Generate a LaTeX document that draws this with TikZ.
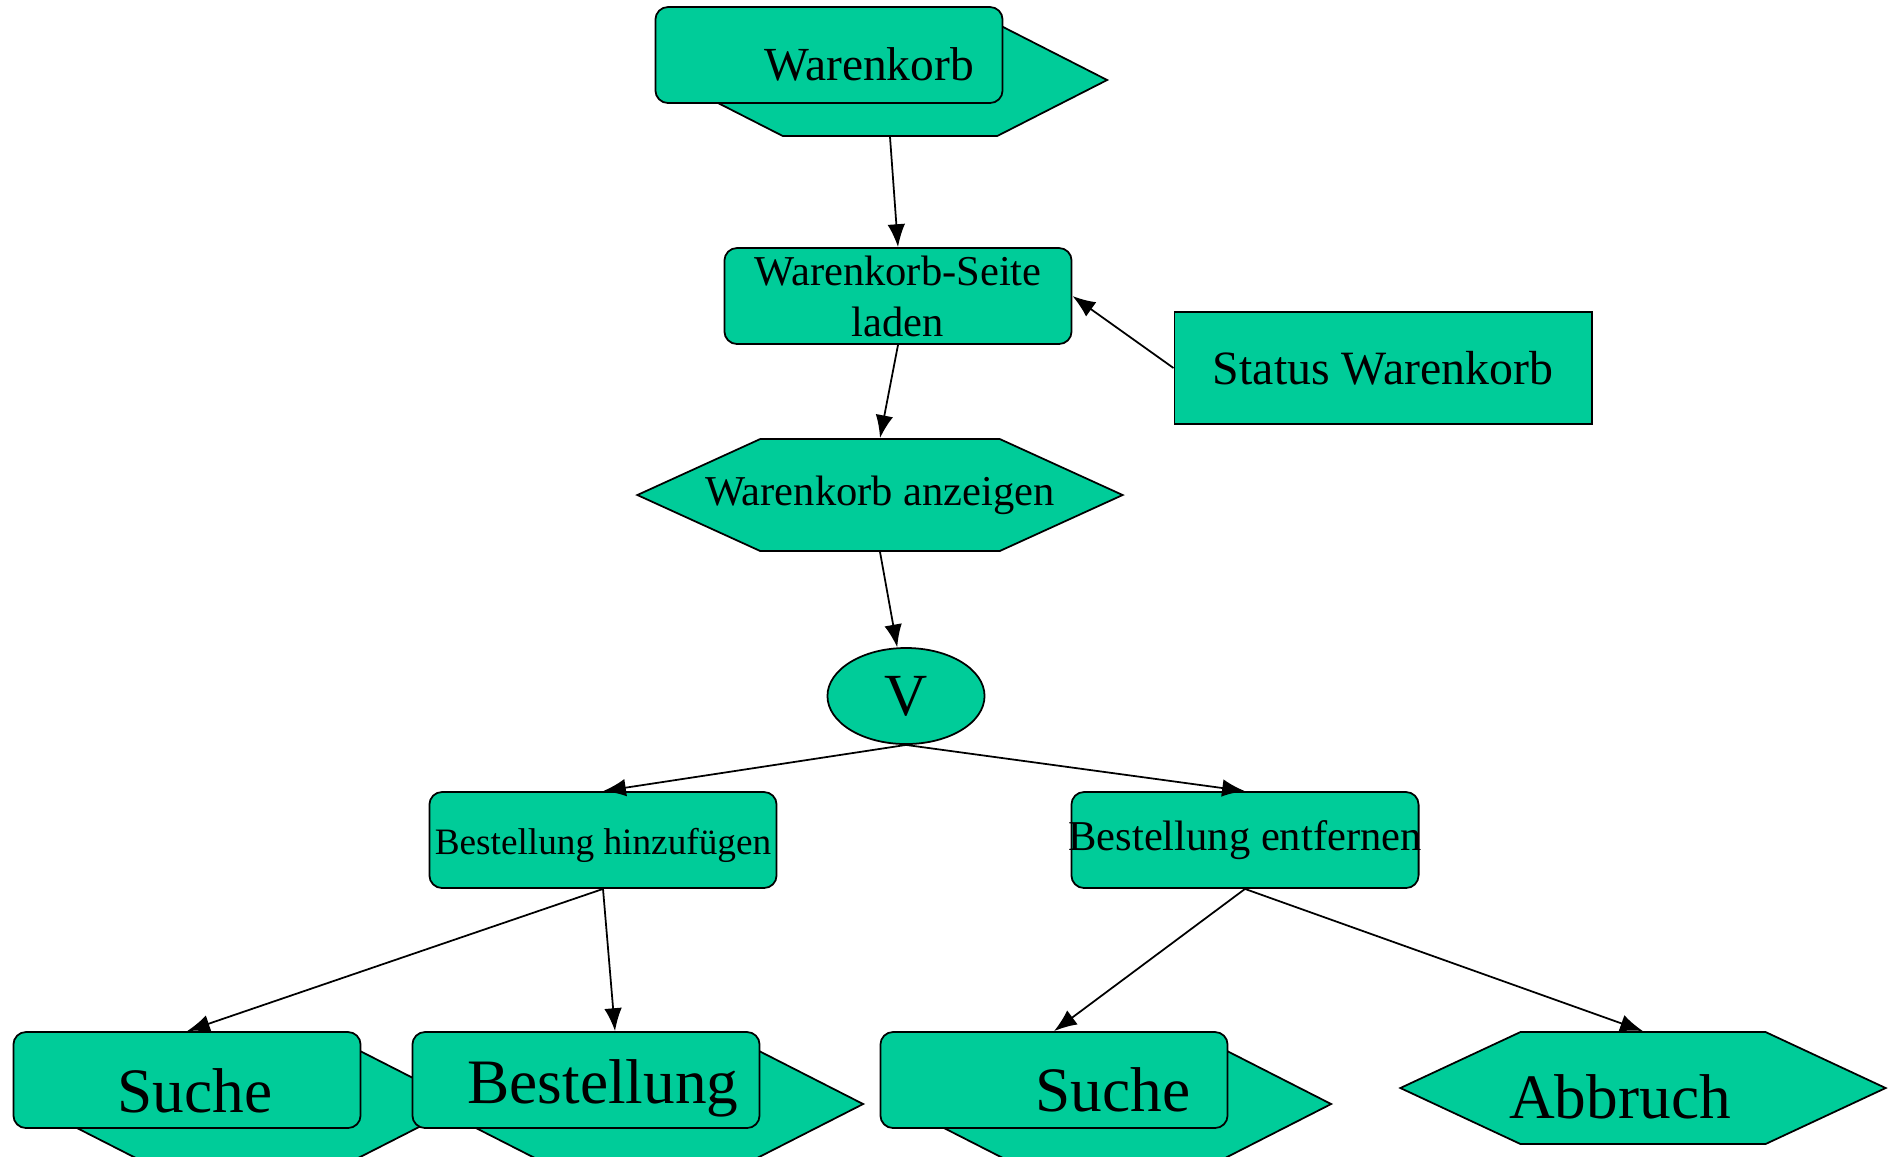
\documentclass[tikz,border=0pt]{standalone}
\usepackage{fontspec}
\setmainfont{Liberation Serif}
\usetikzlibrary{shapes.geometric,shapes.symbols,arrows.meta}
\definecolor{korbgreen}{RGB}{0,204,153}
\begin{document}
\begin{tikzpicture}[
    x=0.01cm, y=-0.01cm,
    every node/.style={text=black, inner sep=0pt},
    pnode/.style={rectangle, rounded corners=3.6pt, draw, fill=korbgreen, line width=0.5pt, minimum width=3.47cm, minimum height=0.96cm, align=center},
    snode/.style={rectangle, draw, fill=korbgreen, line width=0.5pt, minimum width=4.17cm, minimum height=1.12cm},
    hnode/.style={signal, signal to=east and west, draw, fill=korbgreen, line width=0.5pt},
    backhex/.style={hnode, signal pointer angle=54, minimum width=4.34cm, minimum height=1.12cm},
    vnode/.style={ellipse, draw, fill=korbgreen, line width=0.5pt, minimum width=1.57cm, minimum height=0.96cm},
    bigtxt/.style={font=\fontsize{18pt}{21pt}\selectfont, anchor=base},
    flow/.style={draw, line width=0.5pt, -{Latex[length=6.5pt, width=5pt]}}
]
    \useasboundingbox (0,0) rectangle (1888,1156);

    \node[backhex] (korbhex) at (890,80) {};
    \node[pnode] (korb) at (829,55) {};
    \node[font=\fontsize{13.5pt}{16pt}\selectfont, anchor=base] (korbtxt) at (869,80) {Warenkorb};

    \node[pnode, font=\fontsize{12.1pt}{14.5pt}\selectfont] (seite) at (898,296) {Warenkorb-Seite\\laden};
    \node[snode, font=\fontsize{13.6pt}{16pt}\selectfont] (status) at (1383,368) {Status Warenkorb};
    \node[hnode, signal pointer angle=49, minimum width=4.85cm, minimum height=1.12cm] (anzeige) at (880,495) {};
    \node[font=\fontsize{12.1pt}{14.5pt}\selectfont] (anzeigetxt) at (anzeige) {Warenkorb anzeigen};
    \node[vnode, font=\fontsize{17pt}{20pt}\selectfont] (v) at (906,696) {V};

    \node[pnode, font=\fontsize{10.6pt}{13pt}\selectfont, text height=0.36cm] (hinzu) at (603,840) {Bestellung hinzufügen};
    \node[pnode, font=\fontsize{12.1pt}{14.5pt}\selectfont, inner xsep=-0.04cm] (entf) at (1245,840) {Bestellung entfernen};

    \node[backhex] (suchehex) at (247,1104) {};
    \node[pnode] (suche) at (187,1080) {};
    \node[backhex] (besthex) at (646,1104) {};
    \node[pnode] (best) at (586,1080) {};
    \node[backhex] (suchehexb) at (1114,1104) {};
    \node[pnode] (sucheb) at (1054,1080) {};
    \node[hnode, signal pointer angle=50, minimum width=4.85cm, minimum height=1.12cm] (abbr) at (1643,1088) {};

    \node[bigtxt] (suchetxt) at (195,1112) {Suche};
    \node[bigtxt] (besttxt) at (603,1103) {Bestellung};
    \node[bigtxt] (suchetxtb) at (1113,1111) {Suche};
    \node[bigtxt] (abbrtxt) at (1620,1118) {Abbruch};

    \draw[flow] (korbhex.south) -- (seite.north);
    \draw[flow] (seite.south) -- (anzeige.north);
    \draw[flow] (status.west) -- (seite.east);
    \draw[flow] (anzeige.south) -- (v);
    \draw[flow] (v.south) -- (hinzu.north);
    \draw[flow] (v.south) -- (entf.north);
    \draw[flow] (hinzu.south) -- (suche.north);
    \draw[flow] (hinzu.south) -- ([xshift=0.29cm]best.north);
    \draw[flow] (entf.south) -- (sucheb.north);
    \draw[flow] (entf.south) -- (abbr.north);
\end{tikzpicture}
\end{document}
